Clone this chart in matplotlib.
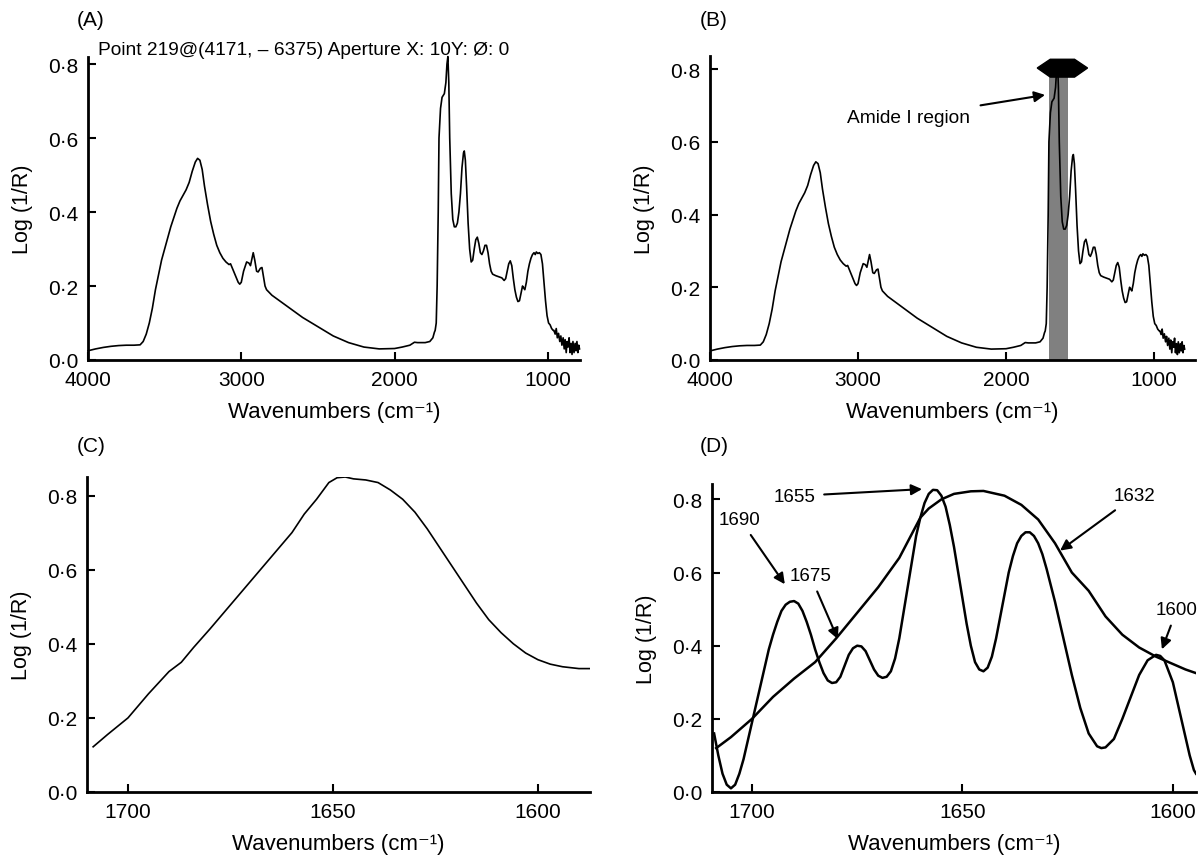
import matplotlib
matplotlib.use("Agg")
import matplotlib.pyplot as plt
from matplotlib.patches import Polygon
from matplotlib.ticker import FuncFormatter

plt.rcParams['font.family'] = ['Liberation Sans', 'DejaVu Sans']

# full spectrum (panels A and B)
wn_full = [4000, 3950, 3900, 3850, 3800, 3750, 3700, 3660, 3640, 3620, 3600, 3580, 3560, 3540,
           3520, 3500, 3480, 3460, 3440, 3420, 3400, 3380, 3360, 3340, 3320, 3300, 3285, 3270,
           3255, 3240, 3220, 3200, 3180, 3160, 3140, 3120, 3100, 3080, 3070, 3060, 3040, 3020,
           3010, 3000, 2985, 2965, 2950, 2940, 2930, 2922, 2912, 2900, 2890, 2875, 2865, 2855,
           2845, 2835, 2800, 2750, 2700, 2600, 2500, 2400, 2300, 2200, 2100, 2000, 1950, 1900,
           1870, 1850, 1800, 1770, 1750, 1740, 1735, 1728, 1722, 1715, 1710, 1700, 1690, 1675,
           1665, 1658, 1652, 1646, 1640, 1630, 1620, 1610, 1600, 1590, 1580, 1570, 1560, 1550,
           1545, 1538, 1530, 1520, 1510, 1500, 1490, 1480, 1470, 1460, 1450, 1440, 1430, 1420,
           1410, 1400, 1390, 1380, 1370, 1360, 1340, 1320, 1300, 1285, 1275, 1265, 1255, 1245,
           1235, 1225, 1215, 1205, 1195, 1185, 1175, 1165, 1158, 1150, 1140, 1130, 1120, 1110,
           1100, 1090, 1082, 1075, 1065, 1055, 1045, 1035, 1025, 1015, 1005, 995, 985, 975,
           965, 960, 952, 945, 938, 930, 922, 915, 908, 900, 893, 887, 880, 874, 868, 861,
           855, 848, 842, 836, 829, 822, 816, 810, 804, 798, 793]
ab_full = [0.025, 0.03, 0.034, 0.037, 0.039, 0.04, 0.04, 0.041, 0.05, 0.07, 0.10, 0.14, 0.19, 0.23,
           0.27, 0.30, 0.33, 0.36, 0.385, 0.41, 0.43, 0.445, 0.46, 0.48, 0.51, 0.535, 0.545, 0.54,
           0.515, 0.47, 0.42, 0.375, 0.34, 0.31, 0.29, 0.275, 0.265, 0.258, 0.26, 0.25, 0.23, 0.21,
           0.205, 0.21, 0.24, 0.265, 0.262, 0.255, 0.275, 0.29, 0.27, 0.24, 0.238, 0.248, 0.25, 0.225,
           0.20, 0.19, 0.175, 0.16, 0.145, 0.115, 0.09, 0.065, 0.047, 0.035, 0.03, 0.031, 0.035, 0.04,
           0.048, 0.047, 0.047, 0.05, 0.06, 0.075, 0.08, 0.10, 0.20, 0.40, 0.60, 0.68, 0.71, 0.72,
           0.75, 0.80, 0.82, 0.75, 0.60, 0.45, 0.38, 0.36, 0.36, 0.37, 0.40, 0.45, 0.52, 0.56,
           0.565, 0.54, 0.47, 0.37, 0.30, 0.265, 0.27, 0.30, 0.325, 0.332, 0.315, 0.29, 0.285, 0.295,
           0.31, 0.31, 0.29, 0.26, 0.24, 0.232, 0.228, 0.225, 0.222, 0.215, 0.22, 0.24, 0.26, 0.268,
           0.255, 0.22, 0.19, 0.17, 0.158, 0.16, 0.18, 0.20, 0.195, 0.19, 0.21, 0.24, 0.26, 0.275,
           0.285, 0.29, 0.285, 0.292, 0.288, 0.29, 0.285, 0.26, 0.21, 0.16, 0.12, 0.10, 0.095, 0.085,
           0.08, 0.08, 0.07, 0.085, 0.06, 0.072, 0.05, 0.065, 0.04, 0.06, 0.03, 0.055, 0.02, 0.05, 0.035, 0.06,
           0.02, 0.045, 0.015, 0.05, 0.02, 0.045, 0.025, 0.05, 0.02, 0.04, 0.03]

# amide I band, panel C
wn_c = [1708.5, 1705, 1700, 1695, 1690, 1687, 1684, 1680, 1675, 1670, 1665, 1660, 1657, 1654,
        1651, 1649, 1647, 1645, 1642, 1639, 1636, 1633, 1630, 1627, 1624, 1621, 1618, 1615,
        1612, 1609, 1606, 1603, 1600, 1597, 1594, 1590, 1587.3]
ab_c = [0.122, 0.155, 0.20, 0.265, 0.325, 0.35, 0.39, 0.44, 0.505, 0.57, 0.635, 0.70, 0.75, 0.79,
        0.835, 0.848, 0.85, 0.845, 0.842, 0.835, 0.815, 0.79, 0.755, 0.71, 0.66, 0.61, 0.56, 0.51,
        0.465, 0.43, 0.40, 0.375, 0.357, 0.345, 0.338, 0.333, 0.333]

# panel D: original band and deconvolved band
wn_d1 = [1708.5, 1705, 1700, 1695, 1690, 1685, 1680, 1675, 1670, 1665, 1660, 1658, 1655, 1652,
         1648, 1645, 1640, 1636, 1632, 1628, 1624, 1620, 1616, 1612, 1608, 1604, 1600, 1597, 1594.5]
ab_d1 = [0.12, 0.15, 0.20, 0.26, 0.31, 0.355, 0.42, 0.49, 0.56, 0.64, 0.75, 0.775, 0.80, 0.815,
         0.822, 0.823, 0.81, 0.785, 0.745, 0.68, 0.60, 0.55, 0.48, 0.43, 0.395, 0.37, 0.35, 0.335, 0.325]

wn_d2 = [1709, 1708, 1707, 1706, 1705, 1704, 1703, 1702, 1701, 1700, 1699, 1698, 1697, 1696, 1695,
         1694, 1693, 1692, 1691, 1690, 1689, 1688, 1687, 1686, 1685, 1684, 1683, 1682, 1681, 1680,
         1679, 1678, 1677, 1676, 1675, 1674, 1673, 1672, 1671, 1670, 1669, 1668, 1667, 1666, 1665,
         1664, 1663, 1662, 1661, 1660, 1659, 1658, 1657, 1656, 1655, 1654, 1653, 1652, 1651, 1650,
         1649, 1648, 1647, 1646, 1645, 1644, 1643, 1642, 1641, 1640, 1639, 1638, 1637, 1636, 1635,
         1634, 1633, 1632, 1631, 1630, 1628, 1626, 1624, 1622, 1620, 1618, 1617, 1616, 1614, 1612,
         1610, 1608, 1606, 1604, 1603, 1602, 1600, 1598, 1596, 1595, 1594.5]
ab_d2 = [0.16, 0.10, 0.05, 0.02, 0.01, 0.02, 0.05, 0.09, 0.14, 0.19, 0.24, 0.29, 0.34, 0.39, 0.43,
         0.465, 0.495, 0.512, 0.52, 0.522, 0.515, 0.495, 0.465, 0.43, 0.39, 0.355, 0.325, 0.305, 0.298, 0.30,
         0.315, 0.345, 0.375, 0.393, 0.40, 0.398, 0.385, 0.36, 0.335, 0.318, 0.312, 0.315, 0.33, 0.365, 0.42,
         0.49, 0.56, 0.63, 0.70, 0.75, 0.79, 0.815, 0.826, 0.825, 0.81, 0.78, 0.73, 0.67, 0.60, 0.53,
         0.46, 0.40, 0.355, 0.335, 0.33, 0.34, 0.37, 0.42, 0.48, 0.54, 0.60, 0.645, 0.68, 0.70, 0.71,
         0.71, 0.70, 0.68, 0.65, 0.61, 0.52, 0.42, 0.32, 0.23, 0.16, 0.125, 0.12, 0.122, 0.145, 0.20,
         0.26, 0.32, 0.36, 0.375, 0.372, 0.36, 0.30, 0.20, 0.10, 0.06, 0.05]

band_lo, band_hi = 1580, 1712
peak_labels = ['1690', '1675', '1655', '1632', '1600']
peak_tips = [(1692.2, 0.568), (1679.6, 0.418), (1659.6, 0.828), (1626.8, 0.66), (1602.6, 0.39)]
peak_text = [(1702.9, 0.746), (1686.2, 0.593), (1689.8, 0.809), (1609, 0.81), (1599, 0.50)]

yticks = [0, 0.2, 0.4, 0.6, 0.8]
fmt = FuncFormatter(lambda v, p: ('%.1f' % v).replace('.', '\u00b7'))

fig = plt.figure(figsize=(12.02, 8.62), dpi=100)
W, H = 1202, 862

def make_ax(l, r, t, b, xlim, ylim, xticks):
    ax = fig.add_axes([l / W, 1 - b / H, (r - l) / W, (b - t) / H])
    ax.set_xlim(*xlim)
    ax.set_ylim(*ylim)
    ax.set_xticks(xticks)
    ax.set_yticks(yticks)
    ax.yaxis.set_major_formatter(fmt)
    for s in ['top', 'right']:
        ax.spines[s].set_visible(False)
    for s in ['left', 'bottom']:
        ax.spines[s].set_linewidth(2)
    ax.tick_params(direction='in', length=6, width=1.5, labelsize=15, pad=7)
    ax.set_xlabel('Wavenumbers (cm\u207b\u00b9)', fontsize=16, labelpad=9)
    ax.set_ylabel('Log (1/R)', fontsize=15.5, labelpad=11)
    return ax

axA = make_ax(88, 580, 58, 361, (4000, 790), (0, 0.819), [4000, 3000, 2000, 1000])
axB = make_ax(710, 1195, 57, 361, (4000, 723), (0, 0.836), [4000, 3000, 2000, 1000])
axC = make_ax(87, 590, 478, 793, (1710, 1587.3), (0, 0.85), [1700, 1650, 1600])
axD = make_ax(712, 1196, 485, 793, (1709.5, 1594.5), (0, 0.842), [1700, 1650, 1600])

axA.plot(wn_full, ab_full, color='k', lw=1.2, clip_on=False)
axA.text(0.02, 1.026, 'Point 219@(4171, \u2013 6375) Aperture X: 10Y: \u00d8: 0',
         transform=axA.transAxes, fontsize=13.8, va='center', ha='left')

axB.axvspan(band_lo, band_hi, ymin=0, ymax=0.778 / 0.836, color='#808080', lw=0)
axB.plot(wn_full, ab_full, color='k', lw=1.2)
cap = Polygon([(1789, 0.803), (1701, 0.827), (1537, 0.827), (1449, 0.803),
               (1537, 0.778), (1701, 0.778)], closed=True, color='k', clip_on=False, zorder=5)
axB.add_patch(cap)
axB.annotate('Amide I region', xy=(1736, 0.729), xytext=(2662, 0.668),
             fontsize=13.8, ha='center', va='center',
             arrowprops=dict(arrowstyle='-|>', color='k', lw=1.5, mutation_scale=16, shrinkA=6, shrinkB=0))

axC.plot(wn_c, ab_c, color='k', lw=1.2)

axD.plot(wn_d1, ab_d1, color='k', lw=1.8)
axD.plot(wn_d2, ab_d2, color='k', lw=1.8)
for lab, tip, txt in zip(peak_labels, peak_tips, peak_text):
    axD.annotate(lab, xy=tip, xytext=txt, fontsize=13.5, ha='center', va='center',
                 arrowprops=dict(arrowstyle='-|>', color='k', lw=1.5, mutation_scale=16, shrinkA=4, shrinkB=0))

for lab, x, y in [('(A)', 77, 20), ('(B)', 700, 20), ('(C)', 77, 447), ('(D)', 700, 447)]:
    fig.text(x / W, 1 - y / H, lab, fontsize=15, ha='left', va='center')

fig.savefig('out.png', dpi=100)
